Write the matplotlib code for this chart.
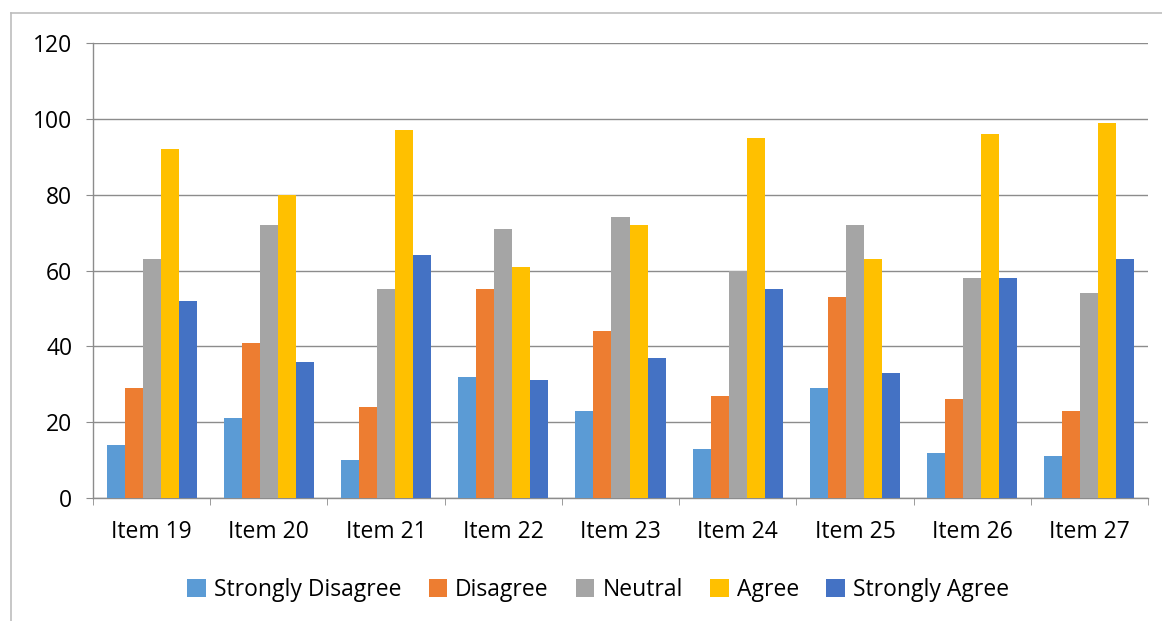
import numpy as np
import matplotlib; matplotlib.use("Agg")
import matplotlib.pyplot as plt
from matplotlib.lines import Line2D

plt.rcParams.update({'font.family': ['Open Sans', 'DejaVu Sans'], 'font.size': 16.5})

items = ['Item 19', 'Item 20', 'Item 21', 'Item 22', 'Item 23', 'Item 24', 'Item 25', 'Item 26', 'Item 27']
strongly_disagree = [14, 21, 10, 32, 23, 13, 29, 12, 11]
disagree = [29, 41, 24, 55, 44, 27, 53, 26, 23]
neutral = [63, 72, 55, 71, 74, 60, 72, 58, 54]
agree = [92, 80, 97, 61, 72, 95, 63, 96, 99]
strongly_agree = [52, 36, 64, 31, 37, 55, 33, 58, 63]

series = [('Strongly Disagree', strongly_disagree, '#5B9BD5'),
          ('Disagree', disagree, '#ED7D31'),
          ('Neutral', neutral, '#A5A5A5'),
          ('Agree', agree, '#FFC000'),
          ('Strongly Agree', strongly_agree, '#4472C4')]

W, H = 1162, 621
fig = plt.figure(figsize=(W / 100, H / 100), dpi=100)
ax = fig.add_axes([93 / W, 1 - 498 / H, (1148 - 93) / W, (498 - 43) / H])

x = np.arange(len(items))
bw = 1 / 6.5  # gap width 150%
for j, (lab, vals, col) in enumerate(series):
    ax.bar(x + (j - 2) * bw, vals, width=bw, color=col, linewidth=0, label=lab, zorder=3)

ax.set_xlim(-0.5, len(items) - 0.5)
ax.set_ylim(0, 120)
ax.set_yticks(range(0, 121, 20))
ax.yaxis.grid(True, color='#8C8C8C', linewidth=1.0, zorder=0)
ax.set_xticks(x)
ax.set_xticklabels(items)
ax.set_xticks(np.arange(-0.5, len(items)), minor=True)
ax.tick_params(axis='x', which='major', length=0, pad=16)
ax.tick_params(axis='x', which='minor', length=5, color='#8C8C8C', direction='out')
ax.tick_params(axis='y', length=5, color='#8C8C8C', pad=10)
for s in ['top', 'right']:
    ax.spines[s].set_visible(False)
for s in ['left', 'bottom']:
    ax.spines[s].set_color('#8C8C8C')
    ax.spines[s].set_linewidth(1.0)

fig.legend(loc='center', bbox_to_anchor=(598 / W, 1 - 590 / H), ncol=5, frameon=False,
           handlelength=0.8, handleheight=0.8, handletextpad=0.35, columnspacing=1.2, fontsize=16.5)

# outer chart frame
fig.add_artist(Line2D([11 / W, 11 / W], [0, 1 - 13 / H], color='#BDBDBD', linewidth=1.2))
fig.add_artist(Line2D([11 / W, 1], [1 - 13 / H, 1 - 13 / H], color='#BDBDBD', linewidth=1.2))

fig.savefig('out.png', dpi=100)
